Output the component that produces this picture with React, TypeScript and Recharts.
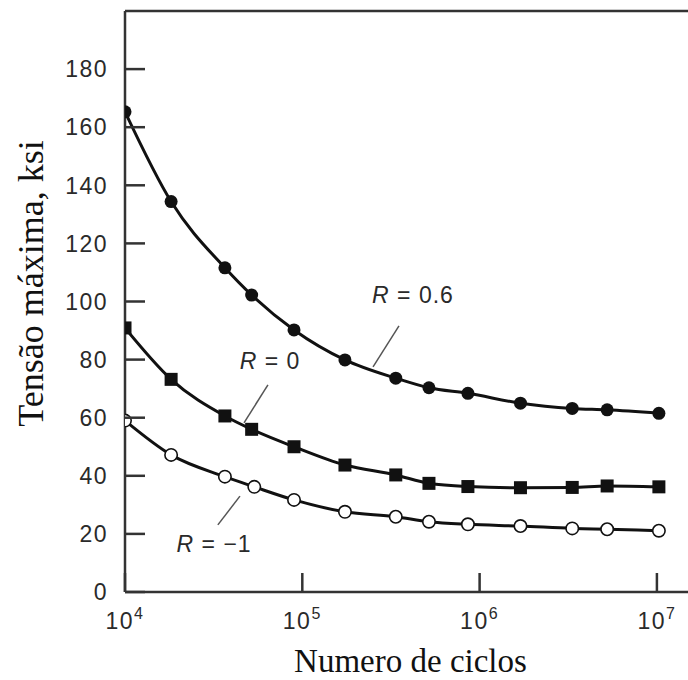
import React from 'react';
import { LineChart, Line, XAxis, YAxis, ReferenceLine, ReferenceDot, Label } from 'recharts';

// Numero de ciclos and tensão máxima (ksi) per curve
const cyclesR06 = [10000, 18200, 36600, 51800, 89800, 174000, 336600, 518000, 859000, 1700000, 3330000, 5240000, 10260000];
const stressR06 = [165.3, 134.4, 111.6, 102.2, 90.2, 79.9, 73.6, 70.3, 68.4, 65.0, 63.2, 62.7, 61.5];

const cyclesR0 = [10000, 18200, 36600, 51800, 89800, 174000, 336600, 518000, 859000, 1700000, 3330000, 5240000, 10260000];
const stressR0 = [90.9, 73.2, 60.6, 56.0, 50.0, 43.7, 40.3, 37.4, 36.3, 35.9, 36.0, 36.5, 36.2];

const cyclesRm1 = [10000, 18200, 36600, 53600, 89800, 174000, 336600, 518000, 859000, 1700000, 3330000, 5240000, 10260000];
const stressRm1 = [59.0, 47.2, 39.7, 36.2, 31.7, 27.6, 25.9, 24.2, 23.3, 22.7, 21.9, 21.6, 21.1];

const xTicks = [10000, 100000, 1000000, 10000000];
const yTicks = [0, 20, 40, 60, 80, 100, 120, 140, 160, 180];

const toRows = (xs: number[], ys: number[]) => xs.map((n, i) => ({ n, v: ys[i] }));

const INK = '#111';
const AXIS = '#333';
const SANS = '"Liberation Sans", Arial, Helvetica, sans-serif';
const SERIF = '"Liberation Serif", "Times New Roman", serif';

const YTick = (props: any) => {
  const { x, y, payload } = props;
  return (
    <g>
      <line x1={x} x2={x + 20} y1={y} y2={y} stroke={AXIS} strokeWidth={2.5} />
      <text x={x - 17} y={y} dy="0.36em" textAnchor="end" fontFamily={SANS} fontSize={23}
        letterSpacing={1.5} fill="#2a2a2a">
        {payload.value}
      </text>
    </g>
  );
};

const XTick = (props: any) => {
  const { x, y, payload } = props;
  const exp = Math.round(Math.log10(payload.value));
  return (
    <g>
      <line x1={x} x2={x} y1={y} y2={y - 19} stroke={AXIS} strokeWidth={2.5} />
      <text x={x} y={y + 37} textAnchor="middle" fontFamily={SANS} fontSize={23}
        letterSpacing={1.5} fill="#2a2a2a">
        10<tspan dy={-10} fontSize={16}>{exp}</tspan>
      </text>
    </g>
  );
};

const filledDot = (p: any) => <circle key={`c${p.index}`} cx={p.cx} cy={p.cy} r={6.5} fill={INK} />;
const squareDot = (p: any) => <rect key={`s${p.index}`} x={p.cx - 6.5} y={p.cy - 6.5} width={13} height={13} fill={INK} />;
const openDot = (p: any) => (
  <circle key={`o${p.index}`} cx={p.cx} cy={p.cy} r={6.2} fill="#fff" stroke={INK} strokeWidth={1.6} />
);

const annot = (rVal: string) => (props: any) => {
  const { viewBox } = props;
  const cx = viewBox.x + viewBox.width / 2;
  const cy = viewBox.y + viewBox.height / 2;
  return (
    <text x={cx} y={cy} dy="0.36em" textAnchor="middle" fontFamily={SANS} fontSize={23}
      letterSpacing={1} fill="#2a2a2a">
      <tspan fontStyle="italic">R</tspan> = {rVal}
    </text>
  );
};

export default function App() {
  return (
    <div style={{ position: 'absolute', left: 0, top: 0, width: 688, height: 680, overflow: 'hidden', background: '#fff' }}>
      <LineChart width={720} height={680} margin={{ top: 11, right: 20, bottom: 0, left: 0 }}>
        <XAxis
          type="number"
          dataKey="n"
          scale="log"
          domain={[10000, 17500000]}
          allowDataOverflow
          ticks={xTicks}
          tickSize={0}
          tickMargin={0}
          tickLine={false}
          tick={<XTick />}
          height={88}
          axisLine={{ stroke: AXIS, strokeWidth: 2.5 }}
        >
          <Label
            content={(p: any) => (
              <text x={p.viewBox.x + p.viewBox.width / 2 - 2} y={p.viewBox.y + 80} textAnchor="middle"
                fontFamily={SERIF} fontSize={33} fill={INK}>
                Numero de ciclos
              </text>
            )}
          />
        </XAxis>
        <YAxis
          type="number"
          domain={[0, 200]}
          ticks={yTicks}
          width={125}
          tickSize={0}
          tickMargin={0}
          tickLine={false}
          tick={<YTick />}
          axisLine={{ stroke: AXIS, strokeWidth: 2.5 }}
        >
          <Label
            content={(p: any) => {
              const cx = p.viewBox.x + 30;
              const cy = p.viewBox.y + p.viewBox.height / 2 - 18;
              return (
                <text x={cx} y={cy} dy="0.36em" textAnchor="middle" transform={`rotate(-90 ${cx} ${cy})`}
                  fontFamily={SERIF} fontSize={36} fill={INK}>
                  Tensão máxima, ksi
                </text>
              );
            }}
          />
        </YAxis>

        <ReferenceLine y={200} stroke={AXIS} strokeWidth={2.5} ifOverflow="visible" />

        {/* leader lines */}
        <ReferenceLine segment={[{ x: 351000, y: 91.6 }, { x: 250600, y: 77.5 }]} stroke="#555" strokeWidth={1.5} />
        <ReferenceLine segment={[{ x: 64000, y: 71.3 }, { x: 46900, y: 58.2 }]} stroke="#555" strokeWidth={1.5} />
        <ReferenceLine segment={[{ x: 44500, y: 33.0 }, { x: 33400, y: 23.1 }]} stroke="#555" strokeWidth={1.5} />

        <Line data={toRows(cyclesR06, stressR06)} dataKey="v" type="monotone" stroke={INK} strokeWidth={3}
          dot={filledDot} activeDot={false} isAnimationActive={false} />
        <Line data={toRows(cyclesR0, stressR0)} dataKey="v" type="monotone" stroke={INK} strokeWidth={3}
          dot={squareDot} activeDot={false} isAnimationActive={false} />
        <Line data={toRows(cyclesRm1, stressRm1)} dataKey="v" type="monotone" stroke={INK} strokeWidth={3}
          dot={openDot} activeDot={false} isAnimationActive={false} />

        <ReferenceDot x={421000} y={102.2} r={0} fill="none" stroke="none" label={annot('0.6')} />
        <ReferenceDot x={65800} y={79.7} r={0} fill="none" stroke="none" label={annot('0')} />
        <ReferenceDot x={31800} y={16.7} r={0} fill="none" stroke="none" label={annot('\u22121')} />
      </LineChart>
    </div>
  );
}
